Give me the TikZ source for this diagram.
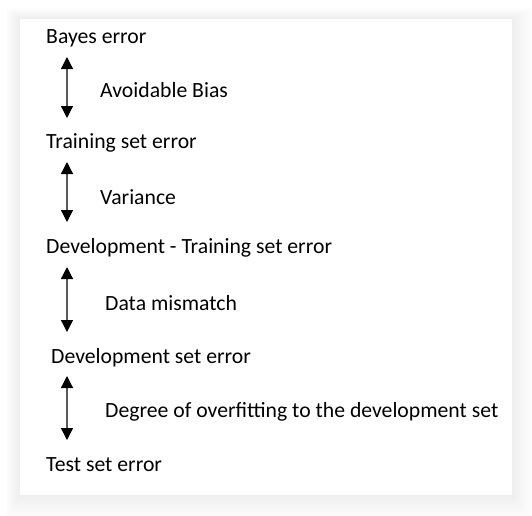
\documentclass[tikz,border=0pt]{standalone}
\usepackage{fontspec}
\setmainfont{Carlito}
\usetikzlibrary{arrows.meta}
\begin{document}
\begin{tikzpicture}[x=1pt,y=-1pt,
  lvl/.style={anchor=west,inner sep=0pt,font=\fontsize{21.7}{24}\selectfont},
  lab/.style={anchor=west,inner sep=0pt,font=\fontsize{21.7}{24}\selectfont},
  gap/.style={draw=black!65,line width=1.3pt,{Triangle[width=12pt,length=12pt,color=black]}-{Triangle[width=12pt,length=12pt,color=black]}}]
\useasboundingbox (0,0) rectangle (532,515);
\fill[white] (0,0) rectangle (532,515);
% soft shadow
\foreach \i in {1,...,16}{
  \fill[black,opacity=0.005] (20-\i*0.9,19-\i*0.7) rectangle (512+\i*1.3,495+\i*1.5);
}
\fill[white] (20,19) rectangle (512,495);
\node[lvl] (bayes) at (46,38.5) {Bayes error};
\node[lvl] (train) at (46,142.5) {Training set error};
\node[lvl] (devtrain) at (46,247.5) {Development - Training set error};
\node[lvl] (dev) at (51,357.5) {Development set error};
\node[lvl] (test) at (46,464.5) {Test set error};
\coordinate (a1t) at (67,57); \coordinate (a1b) at (67,118);
\coordinate (a2t) at (67,162); \coordinate (a2b) at (67,222);
\coordinate (a3t) at (67,267); \coordinate (a3b) at (67,332);
\coordinate (a4t) at (67,376); \coordinate (a4b) at (67,440);
\draw[gap] (a1t) -- (a1b);
\draw[gap] (a2t) -- (a2b);
\draw[gap] (a3t) -- (a3b);
\draw[gap] (a4t) -- (a4b);
\node[lab] (l1) at (100,90.5) {Avoidable Bias};
\node[lab] (l2) at (100,197.5) {Variance};
\node[lab] (l3) at (105,303.5) {Data mismatch};
\node[lab] (l4) at (105,411.5) {Degree of overfitting to the development set};
\end{tikzpicture}
\end{document}
